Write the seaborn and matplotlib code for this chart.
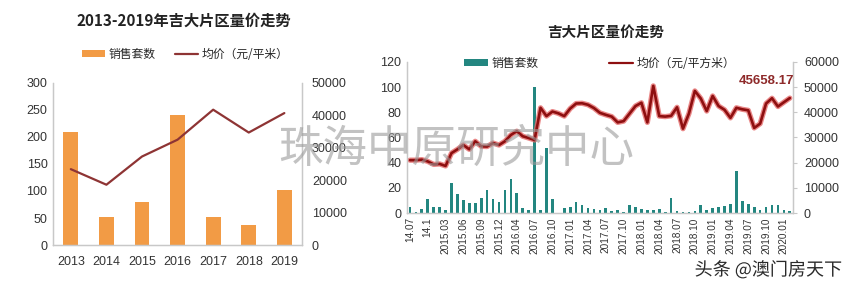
import matplotlib
matplotlib.use("Agg")
import matplotlib.pyplot as plt
import matplotlib.patheffects as pe
from matplotlib.patches import Patch
from matplotlib.lines import Line2D
import seaborn as sns

# ---------------- data ----------------
years = ["2013", "2014", "2015", "2016", "2017", "2018", "2019"]
year_sales = [209, 52, 80, 241, 51, 37, 102]
year_price = [23400, 18600, 27300, 32500, 41750, 34700, 40700]

months = [
    "14.07", "14.08", "14.09", "14.1", "14.11", "14.12",
    "2015.03", "2015.04", "2015.05", "2015.06", "2015.07", "2015.08",
    "2015.09", "2015.10", "2015.11", "2015.12", "2016.01", "2016.03",
    "2016.04", "2016.05", "2016.06", "2016.07", "2016.08", "2016.09",
    "2016.10", "2016.11", "2016.12", "2017.01", "2017.02", "2017.03",
    "2017.04", "2017.05", "2017.06", "2017.07", "2017.08", "2017.09",
    "2017.10", "2017.11", "2017.12", "2018.01", "2018.02", "2018.03",
    "2018.04", "2018.05", "2018.06", "2018.07", "2018.08", "2018.09",
    "2018.10", "2018.11", "2018.12", "2019.01", "2019.02", "2019.03",
    "2019.04", "2019.05", "2019.06", "2019.07", "2019.08", "2019.09",
    "2019.10", "2019.11", "2019.12", "2020.01", "2020.02",
]
month_sales = [
    4.5, 1, 3, 11, 4.5, 4.5, 2.5, 23.5, 15, 10,
    8, 8, 12, 18, 11, 9, 18, 27, 16, 4,
    2, 100, 2.5, 52, 11, 0, 4, 4.5, 8.5, 6,
    4, 3.5, 2.5, 4, 1.5, 2.5, 1, 6.5, 5, 3.5,
    2.5, 2.5, 3, 1, 12, 1.5, 1, 1, 1.5, 6.5,
    2.5, 4, 5, 5.5, 7.5, 33, 9.5, 7.5, 5, 2.5,
    5, 6.5, 6.5, 2, 1.5,
]
month_price = [
    21000, 21000, 21200, 20500, 19300, 19500, 18700, 23800, 25300, 27000,
    25300, 28500, 26500, 26400, 27800, 27000, 28500, 31000, 32500, 30500,
    29800, 29000, 41800, 38500, 40300, 39600, 38500, 41500, 43500, 43600,
    43000, 41700, 39800, 39000, 38300, 36000, 36500, 39500, 42500, 43800,
    36000, 50500, 38500, 38300, 38600, 42000, 33500, 39500, 48500, 45500,
    40500, 46500, 42500, 41000, 37800, 41800, 41200, 40800, 33800, 35500,
    43500, 45600, 42300, 44000, 45658.17,
]
month_tick_labels = [
    "14.07", "14.1", "2015.03", "2015.06", "2015.09", "2015.12", "2016.04",
    "2016.07", "2016.10", "2017.01", "2017.04", "2017.07", "2017.10",
    "2018.01", "2018.04", "2018.07", "2018.10", "2019.01", "2019.04",
    "2019.07", "2019.10", "2020.01",
]
last_label = "45658.17"

left_title = "2013-2019年吉大片区量价走势"
right_title = "吉大片区量价走势"
legend_bar = "销售套数"
legend_line_left = "均价（元/平米）"
legend_line_right = "均价（元/平方米）"
watermark = "珠海中原研究中心"
source_mark = "头条 @澳门房天下"

# ---------------- style ----------------
sns.set_theme(style="white")
plt.rcParams["font.family"] = ["Liberation Sans", "Noto Sans CJK SC", "DejaVu Sans"]
CJK = ["Noto Sans CJK SC", "DejaVu Sans"]

ORANGE = "#F29B45"
BROWN = "#8E3434"
TEAL = "#238680"
RED = "#8E0F10"
GLOW = "#E46A6A"
SPINE = "#C8C8C8"
TXT = "#333333"

fig = plt.figure(figsize=(8.65, 2.91), dpi=100)

# ---------------- left chart ----------------
axL = fig.add_axes([0.0613, 0.158, 0.288, 0.557])
sns.barplot(x=years, y=year_sales, order=years, color=ORANGE, width=0.42,
            saturation=1, linewidth=0, ax=axL)
axL2 = axL.twinx()
sns.pointplot(x=years, y=year_price, order=years, color=BROWN, markers="",
              linestyles="-", errorbar=None, ax=axL2)
for ln in axL2.lines:
    ln.set_linewidth(1.6)
axL.set_xlim(-0.5, len(years) - 0.5)
axL.set_ylim(0, 300)
axL.set_yticks(range(0, 301, 50))
axL2.set_ylim(0, 50000)
axL2.set_yticks(range(0, 50001, 10000))
axL.set_xticks(range(len(years)))
axL.set_xticklabels(years)
for a in (axL, axL2):
    a.set_xlabel("")
    a.set_ylabel("")
    a.tick_params(axis="both", labelsize=9, colors=TXT, length=0, pad=4)
    for s in a.spines.values():
        s.set_color(SPINE)
        s.set_linewidth(0.9)
    a.spines["top"].set_visible(False)
axL.tick_params(axis="x", pad=8)
axL2.tick_params(axis="y", pad=7)

handlesL = [Patch(facecolor=ORANGE, edgecolor="none"),
            Line2D([], [], color=BROWN, lw=1.6)]
axL.legend(handlesL, [legend_bar, legend_line_left], loc="lower center",
           bbox_to_anchor=(0.53, 1.07), ncol=2, frameon=False,
           prop={"family": CJK, "size": 8.5}, handlelength=2.0,
           handleheight=0.55, columnspacing=1.6, handletextpad=0.3)
fig.text(0.212, 0.928, left_title, ha="center", va="center",
         fontsize=11, fontweight="bold", family=CJK, color="#222222")

# ---------------- right chart ----------------
axR = fig.add_axes([0.4705, 0.268, 0.446, 0.519])
sns.barplot(x=months, y=month_sales, order=months, color=TEAL, width=0.45,
            saturation=1, linewidth=0, ax=axR)
axR2 = axR.twinx()
sns.pointplot(x=months, y=month_price, order=months, color=RED, markers="",
              linestyles="-", errorbar=None, ax=axR2)
for ln in axR2.lines:
    ln.set_linewidth(1.9)
    ln.set_path_effects([pe.Stroke(linewidth=3.8, foreground=GLOW, alpha=0.8),
                         pe.Normal()])
axR.set_xlim(-0.5, len(months) - 0.5)
axR.set_ylim(0, 120)
axR.set_yticks(range(0, 121, 20))
axR2.set_ylim(0, 60000)
axR2.set_yticks(range(0, 60001, 10000))
axR.set_xticks(range(0, len(months), 3))
axR.set_xticklabels(month_tick_labels, rotation=90)
for a in (axR, axR2):
    a.set_xlabel("")
    a.set_ylabel("")
    a.tick_params(axis="y", labelsize=9, colors=TXT, length=0, pad=4)
    for s in a.spines.values():
        s.set_color(SPINE)
        s.set_linewidth(0.9)
    a.spines["top"].set_visible(False)
axR.tick_params(axis="x", labelsize=7.2, colors=TXT, length=0, pad=3)
axR2.tick_params(axis="y", length=3, width=0.8, color=SPINE, pad=5)

axR2.annotate(last_label, xy=(len(months) - 1, month_price[-1]),
              xytext=(-17, 8), textcoords="offset points", ha="center",
              va="bottom", fontsize=9.5, fontweight="bold", color="#8E2A2A")

handlesR = [Patch(facecolor=TEAL, edgecolor="none"),
            Line2D([], [], color=RED, lw=1.6)]
axR.legend(handlesR, [legend_bar, legend_line_right], loc="center",
           bbox_to_anchor=(0.5, 0.99), ncol=2, frameon=False,
           prop={"family": CJK, "size": 8.5}, handlelength=2.0,
           handleheight=0.55, columnspacing=6.0, handletextpad=0.3)
fig.text(0.70, 0.89, right_title, ha="center", va="center",
         fontsize=10.5, fontweight="bold", family=CJK, color="#222222")

# ---------------- watermarks ----------------
fig.text(0.527, 0.49, watermark, ha="center", va="center", fontsize=32,
         family=CJK, fontweight="light", color="#9a9a9a", alpha=0.6)
fig.text(0.888, 0.072, source_mark, ha="center", va="center", fontsize=13,
         family=CJK, color="#2a2a2a",
         path_effects=[pe.withStroke(linewidth=2.5, foreground="white")])

fig.savefig("out.png", dpi=100)
